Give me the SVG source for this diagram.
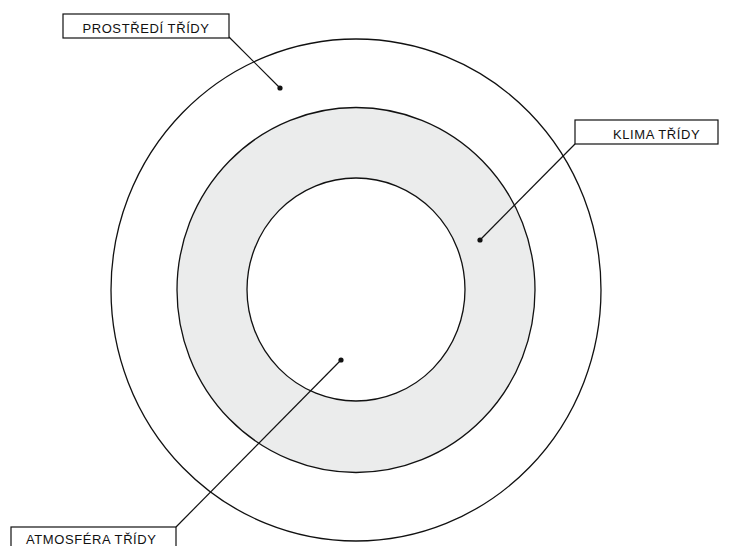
<svg xmlns="http://www.w3.org/2000/svg" width="733" height="546" viewBox="0 0 733 546">
<style>
.ring{fill:none;stroke:#111;stroke-width:1.3}
.box{fill:#fff;stroke:#111;stroke-width:1.2}
.lbl{font-family:"Liberation Sans",Arial,sans-serif;font-size:13px;fill:#111;letter-spacing:0.6px}
.lead{stroke:#111;stroke-width:1.2;fill:none}
.dot{fill:#111}
</style>
<rect width="733" height="546" fill="#fff"/>
<g id="rings">
<ellipse id="outer" class="ring" cx="356" cy="290" rx="245" ry="251"/>
<ellipse id="middle" cx="356" cy="290" rx="179" ry="182.5" fill="#ebecec" stroke="#111" stroke-width="1.3"/>
<ellipse id="inner" cx="356" cy="289.5" rx="109" ry="111.5" fill="#fff" stroke="#111" stroke-width="1.3"/>
</g>
<g id="connectors">
<line class="lead" x1="229" y1="37" x2="280" y2="88"/>
<circle class="dot" cx="280" cy="88" r="2.6"/>
<line class="lead" x1="575" y1="144" x2="480" y2="240"/>
<circle class="dot" cx="480" cy="240" r="2.6"/>
<line class="lead" x1="176" y1="527" x2="341" y2="360"/>
<circle class="dot" cx="341" cy="360" r="2.6"/>
</g>
<g id="prostredi">
<rect class="box" x="63" y="14" width="166" height="24"/>
<text class="lbl" x="146" y="32.5" text-anchor="middle">PROSTŘEDÍ TŘÍDY</text>
</g>
<g id="klima">
<rect class="box" x="575" y="120" width="143" height="24"/>
<text class="lbl" x="613" y="139">KLIMA TŘÍDY</text>
</g>
<g id="atmosfera">
<rect class="box" x="11" y="527" width="165" height="30"/>
<text class="lbl" x="26" y="544">ATMOSFÉRA TŘÍDY</text>
</g>
</svg>
